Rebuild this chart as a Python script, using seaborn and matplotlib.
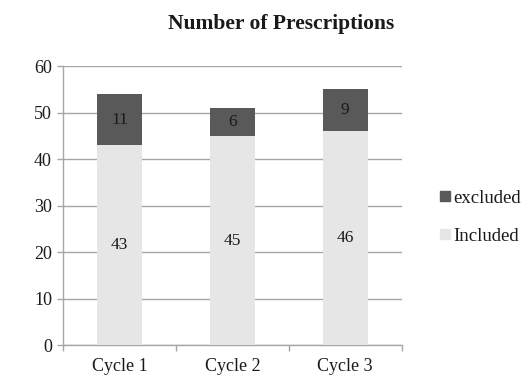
import matplotlib
matplotlib.use("Agg")
import matplotlib.pyplot as plt
from matplotlib.lines import Line2D
import seaborn as sns
import pandas as pd

cycles = ["Cycle 1", "Cycle 2", "Cycle 3"]
included = [43, 45, 46]
excluded = [11, 6, 9]

sns.set_theme(style="white")
plt.rcParams["font.family"] = ["Liberation Serif", "DejaVu Serif"]

dark = "#595959"
light = "#e6e6e6"
grid_c = "#a6a6a6"

df = pd.DataFrame({"cycle": cycles, "included": included, "excluded": excluded})
df["total"] = df["included"] + df["excluded"]

fig = plt.figure(figsize=(5.3, 3.78), dpi=100)
ax = fig.add_axes([0.119, 0.087, 0.639, 0.738])

# totals in dark grey, then included part drawn over it
sns.barplot(data=df, x="cycle", y="total", color=dark, saturation=1, width=0.4,
            linewidth=0, ax=ax, zorder=3)
sns.barplot(data=df, x="cycle", y="included", color=light, saturation=1, width=0.4,
            linewidth=0, ax=ax, zorder=3)

ax.set_ylim(0, 60)
ax.set_xlim(-0.5, 2.5)
ax.set_yticks(range(0, 61, 10))
ax.yaxis.grid(True, color=grid_c, linewidth=1.0, zorder=0)
ax.set_axisbelow(True)
ax.set_xlabel("")
ax.set_ylabel("")

for s in ["top", "right"]:
    ax.spines[s].set_visible(False)
for s in ["left", "bottom"]:
    ax.spines[s].set_color(grid_c)
    ax.spines[s].set_linewidth(1.0)

ax.tick_params(axis="y", which="major", length=4, color=grid_c, width=1, labelsize=13,
               pad=4, left=True, labelcolor="#1a1a1a")
ax.tick_params(axis="x", which="major", length=0, labelsize=13, pad=9, labelcolor="#1a1a1a")
ax.set_xticks([-0.5, 0.5, 1.5, 2.5], minor=True)
ax.tick_params(axis="x", which="minor", length=4, color=grid_c, width=1, bottom=True)

for i, (inc, exc) in enumerate(zip(included, excluded)):
    ax.text(i, inc / 2, str(inc), ha="center", va="center", fontsize=12.5, color="#1a1a1a", zorder=5)
    ax.text(i, inc + exc / 2, str(exc), ha="center", va="center", fontsize=12.5, color="#1a1a1a", zorder=5)

fig.text(0.53, 0.937, "Number of Prescriptions", ha="center", va="center",
         fontsize=15.5, fontweight="bold", color="#1a1a1a")

handles = [
    Line2D([], [], marker="s", linestyle="", markersize=6.5, color=dark, label="excluded"),
    Line2D([], [], marker="s", linestyle="", markersize=6.5, color=light, label="Included"),
]
fig.legend(handles=handles, loc="center left", bbox_to_anchor=(0.80, 0.425), frameon=False,
           fontsize=13.5, labelspacing=1.1, handletextpad=0.05, handlelength=0.8,
           labelcolor="#1a1a1a", borderpad=0.2)

fig.savefig("out.png", dpi=100, facecolor="white")
